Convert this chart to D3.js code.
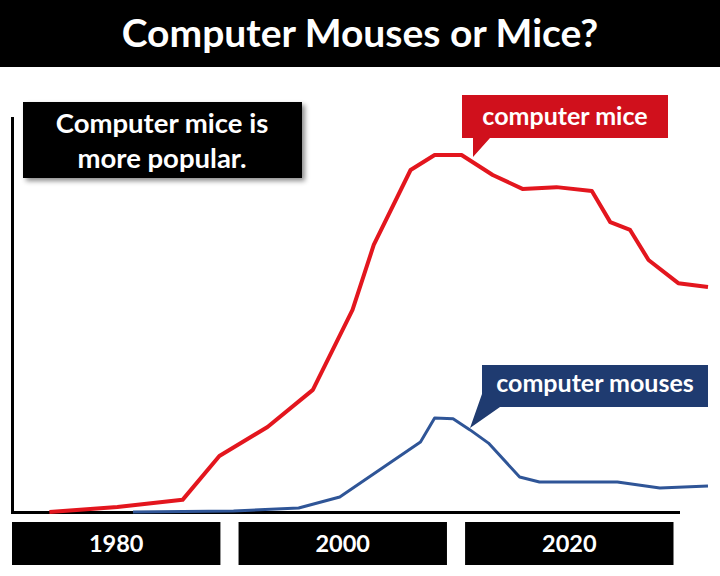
<!DOCTYPE html>
<html>
<head>
<meta charset="utf-8">
<script src="https://cdn.jsdelivr.net/npm/d3@7"></script>
<style>
  html, body { margin: 0; padding: 0; background: #fff; }
  svg { display: block; }
  text { font-family: Lato, "Open Sans", sans-serif; font-weight: 700; }
</style>
</head>
<body>
<svg id="chart" width="720" height="576"></svg>
<script>
// ---- data (relative usage index, peak = 100) ----
const title = "Computer Mouses or Mice?";
const tickLabels = ["1980", "2000", "2020"];

const miceYears   = [1972.5, 1977.3, 1981.9, 1984.5, 1987.9, 1991.1, 1993.9, 1995.4, 1998.0, 1999.7, 2001.6, 2003.8, 2005.9, 2008.3, 2010.8, 2012.1, 2013.5, 2014.8, 2016.9, 2019.0];
const miceValues  = [0,      1.4,    3.4,    15.7,   23.8,   34.2,   56.6,   74.8,   95.8,   100,    100,    94.4,   90.5,   91.0,   89.9,   81.2,   79.0,   70.6,   64.1,   63.0];

const mousesYears  = [1978.4, 1985.5, 1990.1, 1993.0, 1998.7, 1999.7, 2001.0, 2002.2, 2003.5, 2005.7, 2007.1, 2012.6, 2015.6, 2019.0];
const mousesValues = [0,      0.3,    1.1,    4.2,    19.6,   26.3,   26.1,   23.0,   19.3,   9.8,    8.4,    8.4,    6.7,    7.3];

const noteText = ["Computer mice is", "more popular."];
const miceLabel = "computer mice";
const mousesLabel = "computer mouses";

// ---- layout ----
const svg = d3.select("#chart");
const W = 720, H = 576;

const x = d3.scaleLinear().domain([1970, 2019]).range([14, 708]);
const y = d3.scaleLinear().domain([0, 100]).range([512, 155]);
const band = d3.scaleBand().domain(tickLabels).range([12, 673.5]).paddingInner(0.08).paddingOuter(0);

const defs = svg.append("defs");
const f = defs.append("filter").attr("id", "shadow").attr("x", "-10%").attr("y", "-20%").attr("width", "130%").attr("height", "150%");
f.append("feDropShadow").attr("dx", 3).attr("dy", 3).attr("stdDeviation", 2.5).attr("flood-color", "#000").attr("flood-opacity", 0.45);

// title bar
svg.append("rect").attr("x", 0).attr("y", 0).attr("width", W).attr("height", 67).attr("fill", "#000");
svg.append("text").attr("x", W / 2).attr("y", 47).attr("text-anchor", "middle")
  .attr("fill", "#fff").attr("font-size", 39).text(title);

// axes lines
svg.append("line").attr("x1", 12.5).attr("x2", 12.5).attr("y1", 117).attr("y2", 513.5)
  .attr("stroke", "#000").attr("stroke-width", 3);
svg.append("line").attr("x1", 11).attr("x2", 680).attr("y1", 512.5).attr("y2", 512.5)
  .attr("stroke", "#000").attr("stroke-width", 3);

// year boxes (tick labels)
const ticks = svg.append("g").selectAll("g").data(tickLabels).join("g");
ticks.append("rect").attr("x", d => band(d)).attr("y", 522).attr("width", band.bandwidth()).attr("height", 43).attr("fill", "#000");
ticks.append("text").attr("x", d => band(d) + band.bandwidth() / 2).attr("y", 552).attr("text-anchor", "middle")
  .attr("fill", "#fff").attr("font-size", 23.5).text(d => d);

// lines
const line = d3.line().x(d => x(d[0])).y(d => y(d[1])).curve(d3.curveLinear);
const mouses = mousesYears.map((yr, i) => [yr, mousesValues[i]]);
const mice = miceYears.map((yr, i) => [yr, miceValues[i]]);

svg.append("path").datum(mouses).attr("d", line).attr("fill", "none")
  .attr("stroke", "#2F5597").attr("stroke-width", 3).attr("stroke-linejoin", "round");
svg.append("path").datum(mice).attr("d", line).attr("fill", "none")
  .attr("stroke", "#E3161E").attr("stroke-width", 4).attr("stroke-linejoin", "round");

// note box
svg.append("rect").attr("x", 23).attr("y", 102).attr("width", 279).attr("height", 76)
  .attr("fill", "#000").attr("filter", "url(#shadow)");
svg.append("text").attr("x", 162).attr("y", 133).attr("text-anchor", "middle").attr("fill", "#fff")
  .attr("font-size", 27.5).text(noteText[0]);
svg.append("text").attr("x", 162).attr("y", 168).attr("text-anchor", "middle").attr("fill", "#fff")
  .attr("font-size", 27.5).text(noteText[1]);

// callouts
svg.append("path").attr("d", "M462,95H668V138H490L473,157L473,138H462Z").attr("fill", "#D0101C");
svg.append("text").attr("x", 565).attr("y", 125).attr("text-anchor", "middle").attr("fill", "#fff")
  .attr("font-size", 25).text(miceLabel);
svg.append("path").attr("d", "M482,365H708V407H500L470,428L482,394Z").attr("fill", "#1F3B70");
svg.append("text").attr("x", 595).attr("y", 392).attr("text-anchor", "middle").attr("fill", "#fff")
  .attr("font-size", 25).text(mousesLabel);
</script>
</body>
</html>
